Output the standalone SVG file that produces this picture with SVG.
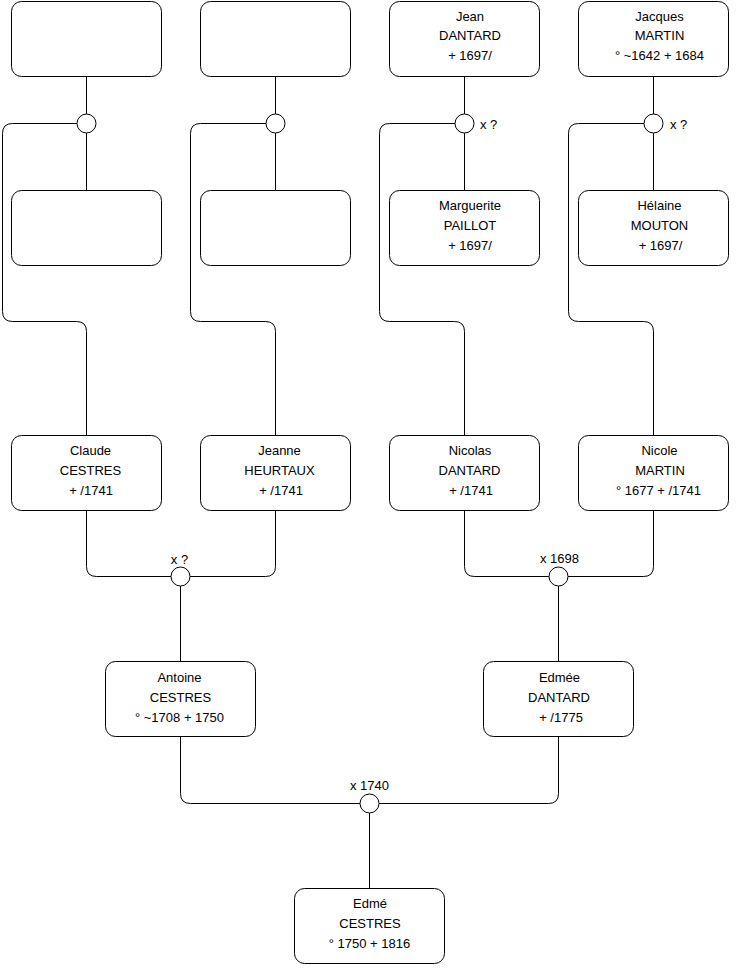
<svg xmlns="http://www.w3.org/2000/svg" width="740" height="975" viewBox="0 0 740 975">
<style>
.box{fill:#fff;stroke:#000;stroke-width:1}
.c{fill:#fff;stroke:#000;stroke-width:1}
.l{fill:none;stroke:#000;stroke-width:1}
text{font-family:"Liberation Sans",Arial,sans-serif;font-size:13px;fill:#000}
.m{text-anchor:middle}
</style>
<rect width="740" height="975" fill="#fff"/>
<g id="connectors">
<path class="l" d="M86.5 76.5V114M86.5 133V190.5"/>
<path class="l" d="M275.5 76.5V114M275.5 133V190.5"/>
<path class="l" d="M464.5 76.5V114M464.5 133V190.5"/>
<path class="l" d="M653.5 76.5V114M653.5 133V190.5"/>
<path class="l" d="M77 123.5H12.5Q2.5 123.5 2.5 133.5V311.5Q2.5 321.5 12.5 321.5H76.5Q86.5 321.5 86.5 331.5V435.5"/>
<path class="l" d="M266 123.5H200.5Q190.5 123.5 190.5 133.5V311.5Q190.5 321.5 200.5 321.5H265.5Q275.5 321.5 275.5 331.5V435.5"/>
<path class="l" d="M455 123.5H389.5Q379.5 123.5 379.5 133.5V311.5Q379.5 321.5 389.5 321.5H454.5Q464.5 321.5 464.5 331.5V435.5"/>
<path class="l" d="M644 123.5H578.5Q568.5 123.5 568.5 133.5V311.5Q568.5 321.5 578.5 321.5H643.5Q653.5 321.5 653.5 331.5V435.5"/>
<path class="l" d="M86.5 510.5V566.5Q86.5 576.5 96.5 576.5H171M275.5 510.5V566.5Q275.5 576.5 265.5 576.5H190M180.5 586V661.5"/>
<path class="l" d="M464.5 510.5V566.5Q464.5 576.5 474.5 576.5H549M653.5 510.5V566.5Q653.5 576.5 643.5 576.5H568M558.5 586V661.5"/>
<path class="l" d="M180.5 736.5V793.5Q180.5 803.5 190.5 803.5H360M558.5 736.5V793.5Q558.5 803.5 548.5 803.5H379M369.5 813V888.5"/>
</g>
<g id="unions">
<circle class="c" cx="86.5" cy="123.5" r="9.5"/>
<circle class="c" cx="275.5" cy="123.5" r="9.5"/>
<circle class="c" cx="464.5" cy="123.5" r="9.5"/>
<text x="480" y="128.5">x ?</text>
<circle class="c" cx="653.5" cy="123.5" r="9.5"/>
<text x="670" y="128.5">x ?</text>
<circle class="c" cx="180.5" cy="576.5" r="9.5"/>
<text class="m" x="179.5" y="563.5">x ?</text>
<circle class="c" cx="558.5" cy="576.5" r="9.5"/>
<text class="m" x="559.5" y="562.5">x 1698</text>
<circle class="c" cx="369.5" cy="803.5" r="9.5"/>
<text class="m" x="369.5" y="790">x 1740</text>
</g>
<g id="n1"><rect class="box" x="11.5" y="1.5" width="150" height="75" rx="10"/></g>
<g id="n2"><rect class="box" x="200.5" y="1.5" width="150" height="75" rx="10"/></g>
<g id="n3"><rect class="box" x="389.5" y="1.5" width="150" height="75" rx="10"/>
<text class="m" x="470" y="20.5">Jean</text><text class="m" x="470" y="40">DANTARD</text><text class="m" x="470" y="60">+ 1697/</text></g>
<g id="n4"><rect class="box" x="578.5" y="1.5" width="150" height="75" rx="10"/>
<text class="m" x="659.5" y="20.5">Jacques</text><text class="m" x="659.5" y="40">MARTIN</text><text class="m" x="659.5" y="60">° ~1642 + 1684</text></g>
<g id="n5"><rect class="box" x="11.5" y="190.5" width="150" height="75" rx="10"/></g>
<g id="n6"><rect class="box" x="200.5" y="190.5" width="150" height="75" rx="10"/></g>
<g id="n7"><rect class="box" x="389.5" y="190.5" width="150" height="75" rx="10"/>
<text class="m" x="470" y="209.5">Marguerite</text><text class="m" x="470" y="229.5">PAILLOT</text><text class="m" x="470" y="249.5">+ 1697/</text></g>
<g id="n8"><rect class="box" x="578.5" y="190.5" width="150" height="75" rx="10"/>
<text class="m" x="659.5" y="209.5">Hélaine</text><text class="m" x="659.5" y="229.5">MOUTON</text><text class="m" x="660.5" y="249.5">+ 1697/</text></g>
<g id="n9"><rect class="box" x="11.5" y="435.5" width="150" height="75" rx="10"/>
<text class="m" x="90.5" y="455">Claude</text><text class="m" x="90.5" y="475">CESTRES</text><text class="m" x="91" y="495">+ /1741</text></g>
<g id="n10"><rect class="box" x="200.5" y="435.5" width="150" height="75" rx="10"/>
<text class="m" x="279.5" y="455">Jeanne</text><text class="m" x="279.5" y="475">HEURTAUX</text><text class="m" x="281" y="495">+ /1741</text></g>
<g id="n11"><rect class="box" x="389.5" y="435.5" width="150" height="75" rx="10"/>
<text class="m" x="470" y="455">Nicolas</text><text class="m" x="469.5" y="475">DANTARD</text><text class="m" x="471" y="495">+ /1741</text></g>
<g id="n12"><rect class="box" x="578.5" y="435.5" width="150" height="75" rx="10"/>
<text class="m" x="659.5" y="455">Nicole</text><text class="m" x="660" y="475">MARTIN</text><text class="m" x="658.5" y="495">° 1677 + /1741</text></g>
<g id="n13"><rect class="box" x="105.5" y="661.5" width="150" height="75" rx="10"/>
<text class="m" x="179.5" y="681.5">Antoine</text><text class="m" x="180.5" y="701.5">CESTRES</text><text class="m" x="179.5" y="721.5">° ~1708 + 1750</text></g>
<g id="n14"><rect class="box" x="483.5" y="661.5" width="150" height="75" rx="10"/>
<text class="m" x="559.5" y="681.5">Edmée</text><text class="m" x="559" y="701.5">DANTARD</text><text class="m" x="561" y="721.5">+ /1775</text></g>
<g id="n15"><rect class="box" x="294.5" y="888.5" width="150" height="75" rx="10"/>
<text class="m" x="370" y="908">Edmé</text><text class="m" x="370" y="928">CESTRES</text><text class="m" x="369.5" y="948">° 1750 + 1816</text></g>
</svg>
